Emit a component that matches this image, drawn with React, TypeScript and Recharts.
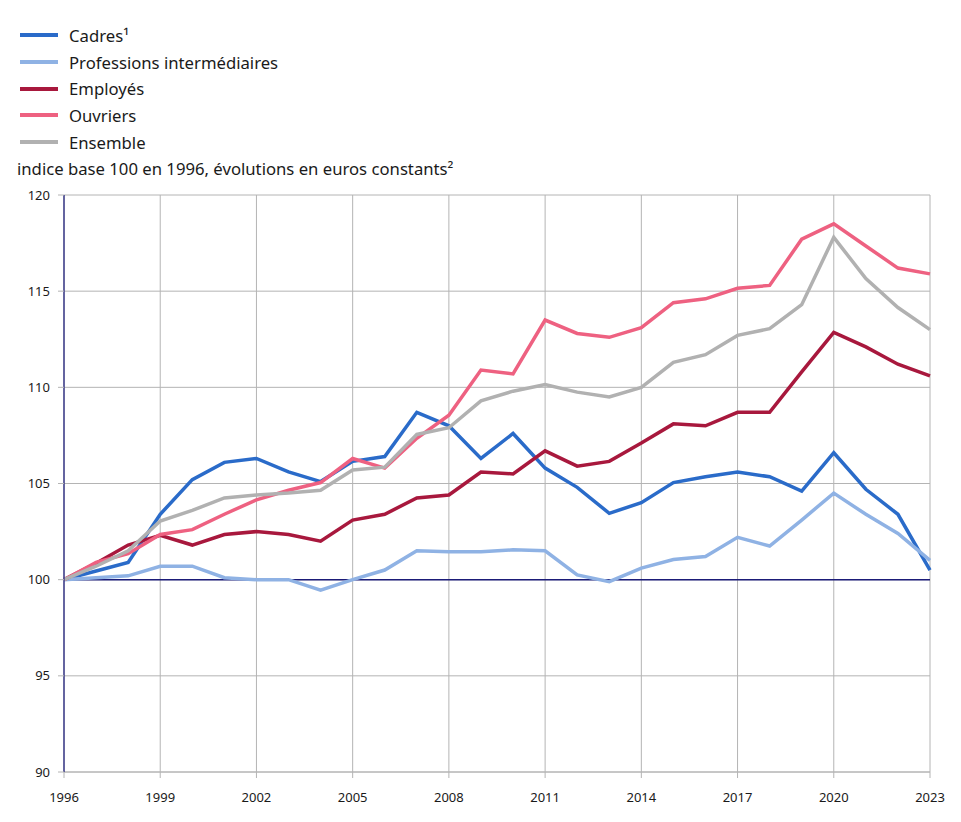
import { LineChart, Line, XAxis, YAxis, CartesianGrid, ReferenceLine } from "recharts"

const years = [
  1996, 1997, 1998, 1999, 2000, 2001, 2002, 2003, 2004, 2005, 2006, 2007, 2008, 2009,
  2010, 2011, 2012, 2013, 2014, 2015, 2016, 2017, 2018, 2019, 2020, 2021, 2022, 2023,
]

const cadres = [
  100, 100.45, 100.9, 103.4, 105.2, 106.1, 106.3, 105.6, 105.1, 106.15, 106.4, 108.7, 108.0, 106.3,
  107.6, 105.8, 104.8, 103.45, 104.0, 105.05, 105.35, 105.6, 105.35, 104.6, 106.6, 104.7, 103.4, 100.5,
]

const professionsIntermediaires = [
  100, 100.1, 100.2, 100.7, 100.7, 100.1, 100.0, 100.0, 99.45, 100.0, 100.5, 101.5, 101.45, 101.45,
  101.55, 101.5, 100.25, 99.9, 100.6, 101.05, 101.2, 102.2, 101.75, 103.1, 104.5, 103.4, 102.4, 101.0,
]

const employes = [
  100, 100.85, 101.8, 102.3, 101.8, 102.35, 102.5, 102.35, 102.0, 103.1, 103.4, 104.25, 104.4, 105.6,
  105.5, 106.7, 105.9, 106.15, 107.1, 108.1, 108.0, 108.7, 108.7, 110.8, 112.85, 112.1, 111.2, 110.6,
]

const ouvriers = [
  100, 100.9, 101.35, 102.35, 102.6, 103.4, 104.15, 104.65, 105.05, 106.3, 105.8, 107.35, 108.55, 110.9,
  110.7, 113.5, 112.8, 112.6, 113.1, 114.4, 114.6, 115.15, 115.3, 117.7, 118.5, 117.35, 116.2, 115.9,
]

const ensemble = [
  100, 100.7, 101.5, 103.05, 103.6, 104.25, 104.4, 104.5, 104.65, 105.7, 105.85, 107.55, 107.9, 109.3,
  109.8, 110.15, 109.75, 109.5, 110.0, 111.3, 111.7, 112.7, 113.05, 114.3, 117.8, 115.65, 114.15, 113.0,
]

const xTicks = [1996, 1999, 2002, 2005, 2008, 2011, 2014, 2017, 2020, 2023]
const yTicks = [90, 95, 100, 105, 110, 115, 120]

const series = [
  { key: "cadres", name: "Cadres¹", color: "#2a6bc9", values: cadres },
  { key: "pi", name: "Professions intermédiaires", color: "#8fb2e4", values: professionsIntermediaires },
  { key: "employes", name: "Employés", color: "#a8183d", values: employes },
  { key: "ouvriers", name: "Ouvriers", color: "#ee6181", values: ouvriers },
  { key: "ensemble", name: "Ensemble", color: "#b1b1b1", values: ensemble },
]

const data = years.map((year, i) => {
  const row: Record<string, number> = { year }
  series.forEach(s => { row[s.key] = s.values[i] })
  return row
})

const font = "'Noto Sans', 'Open Sans', sans-serif"

function LegendList() {
  return (
    <div style={{ position: "absolute", left: 20, top: 22, fontFamily: font, fontSize: 16.7, color: "#1a1a1a", whiteSpace: "nowrap" }}>
      {series.map(s => (
        <div key={s.key} style={{ display: "flex", alignItems: "center", height: 26.7 }}>
          <span style={{ display: "inline-block", width: 38, height: 4, background: s.color, marginRight: 11 }} />
          <span>{s.name}</span>
        </div>
      ))}
    </div>
  )
}

export default function App() {
  return (
    <div style={{ position: "absolute", left: 0, top: 0, width: 961, height: 822, background: "#fff" }}>
      <LineChart width={961} height={822} data={data} margin={{ top: 195, right: 31, bottom: 20, left: 0 }}>
        <CartesianGrid stroke="#b4b4b4" strokeWidth={1} />
        <XAxis
          dataKey="year"
          type="number"
          domain={[1996, 2023]}
          ticks={xTicks}
          interval={0}
          height={30}
          tickSize={6}
          tickMargin={15}
          axisLine={{ stroke: "#b4b4b4" }}
          tickLine={{ stroke: "#b4b4b4" }}
          tick={{ fontSize: 13, fill: "#1a1a1a", fontFamily: font }}
        />
        <YAxis
          type="number"
          domain={[90, 120]}
          ticks={yTicks}
          interval={0}
          width={64}
          tickSize={6}
          tickMargin={8}
          axisLine={{ stroke: "#3d3d8c", strokeWidth: 1.5 }}
          tickLine={{ stroke: "#b4b4b4" }}
          tick={{ fontSize: 13, fill: "#1a1a1a", fontFamily: font }}
        />
        <ReferenceLine y={100} stroke="#1b1b78" strokeWidth={1.5} />
        {series.map(s => (
          <Line
            key={s.key}
            dataKey={s.key}
            name={s.name}
            stroke={s.color}
            strokeWidth={3.5}
            dot={false}
            activeDot={false}
            isAnimationActive={false}
          />
        ))}
      </LineChart>
      <LegendList />
      <div
        style={{
          position: "absolute", left: 17, top: 159, fontFamily: font, fontSize: 16.7,
          lineHeight: "20px", color: "#1a1a1a", whiteSpace: "nowrap",
        }}
      >
        indice base 100 en 1996, évolutions en euros constants²
      </div>
    </div>
  )
}
